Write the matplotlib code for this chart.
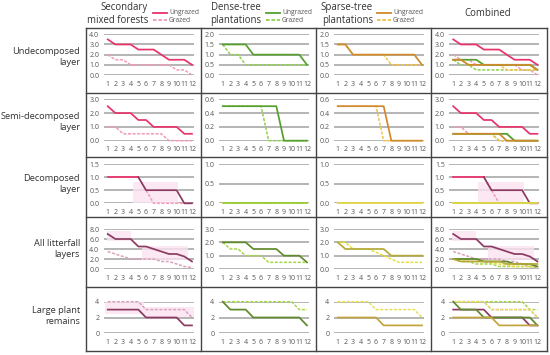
import matplotlib
matplotlib.use('Agg')
import matplotlib.pyplot as plt

plt.rcParams['font.family'] = ['Open Sans', 'DejaVu Sans']

# Data
months = list(range(1, 13))

col_titles = ['Secondary\nmixed forests', 'Dense-tree\nplantations', 'Sparse-tree\nplantations', 'Combined']
row_titles = ['Undecomposed\nlayer', 'Semi-decomposed\nlayer', 'Decomposed\nlayer',
              'All litterfall\nlayers', 'Large plant\nremains']

und_sec_ung = [3.5, 3.0, 3.0, 3.0, 2.5, 2.5, 2.5, 2.0, 1.5, 1.5, 1.5, 1.0]
und_sec_gra = [2.0, 1.5, 1.5, 1.0, 1.0, 1.0, 1.0, 1.0, 1.0, 0.5, 0.5, 0.0]
und_den_ung = [1.5, 1.5, 1.5, 1.5, 1.0, 1.0, 1.0, 1.0, 1.0, 1.0, 1.0, 0.5]
und_den_gra = [1.5, 1.0, 1.0, 0.5, 0.5, 0.5, 0.5, 0.5, 0.5, 0.5, 0.5, 0.5]
und_spa_ung = [1.5, 1.5, 1.0, 1.0, 1.0, 1.0, 1.0, 1.0, 1.0, 1.0, 1.0, 0.5]
und_spa_gra = [1.5, 1.5, 1.0, 1.0, 1.0, 1.0, 1.0, 0.5, 0.5, 0.5, 0.5, 0.5]

semi_sec_ung = [2.5, 2.0, 2.0, 2.0, 1.5, 1.5, 1.0, 1.0, 1.0, 1.0, 0.5, 0.5]
semi_sec_gra = [1.0, 1.0, 0.5, 0.5, 0.5, 0.5, 0.5, 0.5, 0.0, 0.0, 0.0, 0.0]
semi_den_ung = [0.5, 0.5, 0.5, 0.5, 0.5, 0.5, 0.5, 0.5, 0.0, 0.0, 0.0, 0.0]
semi_den_gra = [0.5, 0.5, 0.5, 0.5, 0.5, 0.5, 0.0, 0.0, 0.0, 0.0, 0.0, 0.0]
semi_spa_ung = [0.5, 0.5, 0.5, 0.5, 0.5, 0.5, 0.5, 0.0, 0.0, 0.0, 0.0, 0.0]
semi_spa_gra = [0.5, 0.5, 0.5, 0.5, 0.5, 0.5, 0.0, 0.0, 0.0, 0.0, 0.0, 0.0]

dec_sec_ung = [1.0, 1.0, 1.0, 1.0, 1.0, 0.5, 0.5, 0.5, 0.5, 0.5, 0.0, 0.0]
dec_sec_gra = [1.0, 1.0, 1.0, 1.0, 1.0, 0.5, 0.0, 0.0, 0.0, 0.0, 0.0, 0.0]
dec_den_ung = [0.0] * 12
dec_den_gra = [0.0] * 12
dec_spa_ung = [0.0] * 12
dec_spa_gra = [0.0] * 12

all_sec_ung = [7.0, 6.0, 6.0, 6.0, 4.5, 4.5, 4.0, 3.5, 3.0, 3.0, 2.5, 1.5]
all_sec_gra = [3.5, 3.0, 2.5, 2.0, 2.0, 2.0, 2.0, 1.5, 1.5, 1.0, 0.5, 0.3]
all_den_ung = [2.0, 2.0, 2.0, 2.0, 1.5, 1.5, 1.5, 1.5, 1.0, 1.0, 1.0, 0.5]
all_den_gra = [2.0, 1.5, 1.5, 1.0, 1.0, 1.0, 0.5, 0.5, 0.5, 0.5, 0.5, 0.5]
all_spa_ung = [2.0, 1.5, 1.5, 1.5, 1.5, 1.5, 1.5, 1.0, 1.0, 1.0, 1.0, 1.0]
all_spa_gra = [2.0, 2.0, 1.5, 1.5, 1.5, 1.25, 1.0, 0.75, 0.5, 0.5, 0.5, 0.5]

lpr_sec_ung = [3, 3, 3, 3, 3, 2, 2, 2, 2, 2, 1, 1]
lpr_sec_gra = [4, 4, 4, 4, 4, 3, 3, 3, 3, 3, 3, 2]
lpr_den_ung = [4, 3, 3, 3, 2, 2, 2, 2, 2, 2, 2, 1]
lpr_den_gra = [4, 4, 4, 4, 4, 4, 4, 4, 4, 4, 3, 3]
lpr_spa_ung = [2, 2, 2, 2, 2, 2, 1, 1, 1, 1, 1, 1]
lpr_spa_gra = [4, 4, 4, 4, 4, 3, 3, 3, 3, 3, 3, 2]

# y axis top and tick step, per row: (secondary/combined, plantations)
row_ylims = [((4.0, 1.0), (2.0, 0.5)),
             ((3.0, 1.0), (0.6, 0.2)),
             ((1.5, 0.5), (1.0, 0.5)),
             ((8.0, 2.0), (3.0, 1.0)),
             ((4, 2), (4, 2))]

# shaded periods (x0, x1, y0, y1) in the secondary panels (and combined for rows 2-3)
shades = {2: [(4.3, 10.2, 0.0, 0.8)],
          3: [(0.9, 4.0, 5.6, 7.6), (5.5, 11.5, 1.8, 4.6)],
          4: [(0.6, 5.8, 2.4, 4.6), (5.8, 12.2, 2.0, 3.3)]}

rows = [
    [(und_sec_ung, und_sec_gra), (und_den_ung, und_den_gra), (und_spa_ung, und_spa_gra)],
    [(semi_sec_ung, semi_sec_gra), (semi_den_ung, semi_den_gra), (semi_spa_ung, semi_spa_gra)],
    [(dec_sec_ung, dec_sec_gra), (dec_den_ung, dec_den_gra), (dec_spa_ung, dec_spa_gra)],
    [(all_sec_ung, all_sec_gra), (all_den_ung, all_den_gra), (all_spa_ung, all_spa_gra)],
    [(lpr_sec_ung, lpr_sec_gra), (lpr_den_ung, lpr_den_gra), (lpr_spa_ung, lpr_spa_gra)],
]

# line colours per row: (ungrazed, grazed) for secondary, dense, sparse
light = [('#e8336b', '#f29ab8'), ('#55a02c', '#8fd14f'), ('#cf8a2e', '#f5c24a')]
dark = [('#8c3a63', '#d8a2bd'), ('#5f8a2c', '#a6d64a'), ('#b3a83a', '#e6df3c')]
row_colors = [light, light,
              [light[0], ('#9acd32', '#9acd32'), ('#e3d64a', '#e3d64a')],
              dark, [dark[0], dark[1], ('#c2a43c', '#e8e05a')]]

W, H = 550, 355
fig = plt.figure(figsize=(W / 100, H / 100), dpi=100)

col_edges = [86, 200.7, 315.7, 430.7, 546.5]
row_edges = [28, 92.7, 156.7, 216.7, 286.7, 350.7]
ax_left = [103.5, 218.5, 333.5, 449]
ax_w = 90
ax_rows = [(34.3, 75), (99.3, 140.7), (164, 203.3), (229, 269), (301.7, 333.3)]


def box(l, t, w, h):
    return [l / W, 1 - (t + h) / H, w / W, h / H]


# table frame
frame = fig.add_axes([0, 0, 1, 1])
frame.set_xlim(0, W)
frame.set_ylim(H, 0)
frame.axis('off')
for xe in col_edges:
    frame.plot([xe, xe], [row_edges[0], row_edges[-1]], color='#444444', lw=1.0)
for ye in row_edges:
    frame.plot([col_edges[0], col_edges[-1]], [ye, ye], color='#444444', lw=1.0)

for r, title in enumerate(row_titles):
    frame.text(80, (row_edges[r] + row_edges[r + 1]) / 2 - 3, title, ha='right', va='center',
               fontsize=6.7, color='#333333', linespacing=1.3)

# column headers with small legends
head_x = [148, 261, 373, 488]
leg_x = [153, 266, 377]
for c, title in enumerate(col_titles):
    if c < 3:
        frame.text(head_x[c], 14, title, ha='right', va='center', fontsize=6.9,
                   color='#333333', linespacing=1.25, multialignment='right')
        cu, cg = light[c]
        frame.plot([leg_x[c], leg_x[c] + 14], [12.5, 12.5], color=cu, lw=1.3)
        frame.plot([leg_x[c], leg_x[c] + 14], [20, 20], color=cg, lw=1.3, ls=(0, (2, 1)))
        frame.text(leg_x[c] + 16, 12.5, 'Ungrazed', fontsize=4.8, color='#555555', va='center')
        frame.text(leg_x[c] + 16, 20, 'Grazed', fontsize=4.8, color='#555555', va='center')
    else:
        frame.text(head_x[c], 14, title, ha='center', va='center', fontsize=6.9, color='#333333')

for r in range(5):
    top, bot = ax_rows[r]
    for c in range(4):
        ax = fig.add_axes(box(ax_left[c], top, ax_w, bot - top))
        ymax, step = row_ylims[r][0] if c in (0, 3) else row_ylims[r][1]
        nt = int(round(ymax / step))
        yt = [i * step for i in range(nt + 1)]
        for y in yt:
            ax.axhline(y, color='#a0a0a0', lw=1.1, zorder=0)
        ax.set_xlim(0.45, 12.2)
        ax.set_ylim(0, ymax)
        ax.set_yticks(yt)
        if r == 4:
            ax.set_yticklabels(['%d' % y for y in yt])
        else:
            ax.set_yticklabels(['%.1f' % y for y in yt])
        ax.set_xticks(months)
        ax.set_xticklabels([str(m) for m in months])
        ax.tick_params(length=0, labelsize=5, colors='#555555', pad=4)
        ax.tick_params(axis='y', pad=3)
        for s in ax.spines.values():
            s.set_visible(False)
        ax.patch.set_alpha(0)

        if r in shades and (c == 0 or (c == 3 and r < 4)):
            for x0, x1, y0, y1 in shades[r]:
                ax.fill_between([x0, x1], y0, y1, color='#fbe3f1', alpha=0.8, lw=0, zorder=0.5)

        series = range(3) if c == 3 else [c]
        for s in series:
            ung, gra = rows[r][s]
            cu, cg = row_colors[r][s]
            ax.plot(months, gra, color=cg, lw=1.1, ls=(0, (2, 1)), clip_on=False, zorder=2)
            if r == 2 and s == 0:
                ax.plot(months[:5], ung[:5], color=light[0][0], lw=1.25, clip_on=False, zorder=3)
                ax.plot(months[4:], ung[4:], color=dark[0][0], lw=1.25, clip_on=False, zorder=3)
            else:
                ax.plot(months, ung, color=cu, lw=1.25, clip_on=False, zorder=3)

fig.savefig('out.png', dpi=100)
